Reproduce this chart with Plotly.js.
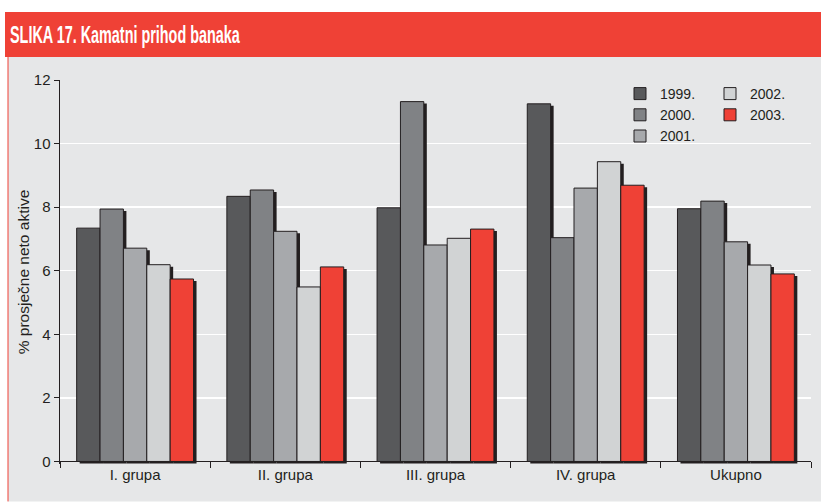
<!DOCTYPE html>
<html>
<head>
<meta charset="utf-8">
<script src="https://cdn.plot.ly/plotly-3.0.1.min.js"></script>
<style>html,body{margin:0;padding:0;background:#fff;}#chart{width:821px;height:502px;}</style>
</head>
<body>
<div id="chart"></div>
<script>
// ---- data ----
const categories = ['I. grupa', 'II. grupa', 'III. grupa', 'IV. grupa', 'Ukupno'];
const years = ['1999.', '2000.', '2001.', '2002.', '2003.'];
const v1999 = [7.34, 8.34, 7.98, 11.25, 7.95];
const v2000 = [7.94, 8.54, 11.32, 7.04, 8.19];
const v2001 = [6.71, 7.24, 6.81, 8.60, 6.91];
const v2002 = [6.19, 5.49, 7.02, 9.43, 6.18];
const v2003 = [5.74, 6.12, 7.31, 8.69, 5.90];
const yTickVals = [0, 2, 4, 6, 8, 10, 12];
const titleText = 'SLIKA 17. Kamatni prihod banaka';
const yTitleText = '% prosječne neto aktive';

// ---- style ----
const series = [v1999, v2000, v2001, v2002, v2003];
const colors = ['#58595b', '#808285', '#a7a9ac', '#d1d3d4', '#ef4136'];
const legendOf = ['legend', 'legend', 'legend', 'legend2', 'legend2'];
const dark = '#231f20';
const W = 821, H = 502;
const m = {l: 60, r: 10, t: 80, b: 37.5, autoexpand: false};
const yRange = [-0.08, 12];
const barW = 0.1556;
const groupHalf = 0.389;
const plotH = H - m.t - m.b;
const pw = W - m.l - m.r;
const pxPerY = plotH / (yRange[1] - yRange[0]);
const pxPerX = pw / 5;
const shX = 3 / pxPerX;
const shY = 2 / pxPerY;

const traces = [];
// shadows first
series.forEach((vals, i) => {
  traces.push({
    type: 'bar', x: categories, y: vals, base: -shY,
    width: barW, offset: -groupHalf + i * barW + shX,
    marker: {color: dark, line: {width: 0}},
    showlegend: false, hoverinfo: 'skip'
  });
});
series.forEach((vals, i) => {
  traces.push({
    type: 'bar', name: years[i], x: categories, y: vals,
    width: barW, offset: -groupHalf + i * barW,
    marker: {color: colors[i], line: {color: dark, width: 1}},
    legend: legendOf[i]
  });
});

function px2x(px) { return (px - m.l) / pw; }
function py2y(py) { return 1 - (py - m.t) / plotH; }

const layout = {
  width: W, height: H,
  margin: m,
  paper_bgcolor: '#ffffff',
  plot_bgcolor: 'rgba(0,0,0,0)',
  barmode: 'overlay',
  font: {family: 'Liberation Sans, Arial, sans-serif', color: dark, size: 15},
  title: {
    text: '<b>' + titleText + '</b>',
    xref: 'container', yref: 'container',
    x: 10 / W, xanchor: 'left',
    y: 1 - 35 / H, yanchor: 'middle',
    font: {family: 'Liberation Sans, Arial, sans-serif', size: 24, color: '#ffffff'}
  },
  shapes: [
    {type: 'rect', xref: 'paper', yref: 'paper', layer: 'below',
     x0: px2x(5), x1: px2x(821), y0: py2y(57), y1: py2y(12),
     fillcolor: '#ef4136', line: {width: 0}},
    {type: 'rect', xref: 'paper', yref: 'paper', layer: 'below',
     x0: px2x(8), x1: px2x(821), y0: py2y(502), y1: py2y(57),
     fillcolor: '#e6e7e8', line: {width: 0}},
    {type: 'line', xref: 'paper', yref: 'paper', layer: 'below',
     x0: px2x(8), x1: px2x(8), y0: py2y(502), y1: py2y(57),
     line: {color: '#ef4136', width: 1}}
  ],
  xaxis: {
    type: 'category',
    range: [-0.5, 4.5],
    anchor: 'free',
    position: (0 - yRange[0]) / (yRange[1] - yRange[0]),
    showline: true, linecolor: dark, linewidth: 1,
    ticks: 'outside', tickson: 'boundaries', ticklen: 6, tickcolor: dark, tickwidth: 1,
    showgrid: false, zeroline: false,
    tickfont: {size: 15, color: dark}
  },
  yaxis: {
    range: yRange,
    tickvals: yTickVals,
    ticktext: yTickVals.map(String),
    showline: true, linecolor: dark, linewidth: 1.5,
    ticks: 'outside', ticklen: 5, tickcolor: dark, tickwidth: 1,
    showgrid: true, gridcolor: '#ffffff', gridwidth: 1.5,
    zeroline: false,
    tickfont: {size: 15, color: dark},
    title: {text: yTitleText, font: {size: 15.5, color: dark}, standoff: 0}
  },
  legend: {
    xref: 'paper', yref: 'paper',
    x: px2x(620), xanchor: 'left', y: py2y(78), yanchor: 'top',
    bgcolor: 'rgba(0,0,0,0)', borderwidth: 0,
    font: {size: 14, color: dark}, tracegroupgap: 0, traceorder: 'normal'
  },
  legend2: {
    xref: 'paper', yref: 'paper',
    x: px2x(710), xanchor: 'left', y: py2y(78), yanchor: 'top',
    bgcolor: 'rgba(0,0,0,0)', borderwidth: 0,
    font: {size: 14, color: dark}, tracegroupgap: 0, traceorder: 'normal'
  },
  showlegend: true
};

Plotly.newPlot('chart', traces, layout, {displayModeBar: false, staticPlot: true}).then(function (gd) {
  // condense the title horizontally (condensed bold face of the original)
  const t = gd.querySelector('.gtitle');
  if (t) {
    const x = parseFloat(t.getAttribute('x')) || 10;
    const prev = t.getAttribute('transform') || '';
    t.setAttribute('transform', prev + ' translate(' + x + ',0) scale(0.6,1) translate(' + (-x) + ',0)');
  }
});
</script>
</body>
</html>
